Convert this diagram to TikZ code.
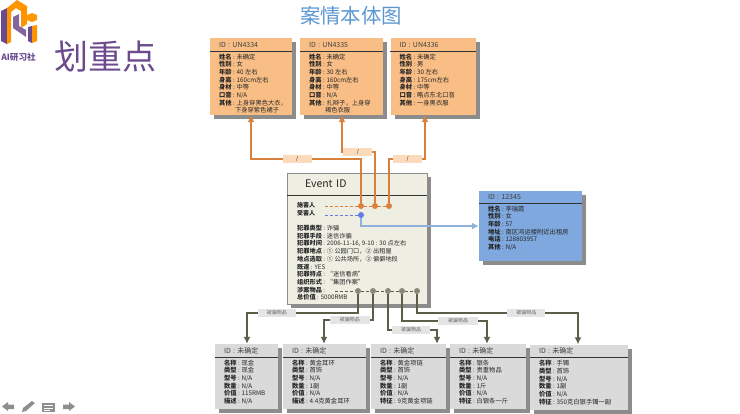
\documentclass[tikz,border=0pt]{standalone}
\usepackage{fontspec}
\setmainfont{Noto Sans CJK SC}
\usetikzlibrary{shadows,arrows.meta}
\definecolor{orangefill}{HTML}{F9BE85}
\definecolor{orangeline}{HTML}{D9803A}
\definecolor{bluefill}{HTML}{7FA8DE}
\definecolor{blueline}{HTML}{8FB2DC}
\definecolor{greyfill}{HTML}{DADADA}
\definecolor{oliveline}{HTML}{5E5E48}
\definecolor{eventfill}{HTML}{EEEEE2}
\definecolor{titleblue}{HTML}{5C97D2}
\definecolor{purpletext}{HTML}{6C4A8E}
\definecolor{toolgrey}{HTML}{8E8E8E}

\begin{document}
\begin{tikzpicture}[
    x=1pt, y=-1pt,
    box/.style={rectangle, inner sep=0pt, drop shadow={shadow xshift=4pt, shadow yshift=-4pt, fill=black!60, opacity=0.75}},
    orangebox/.style={box, fill=orangefill},
    bluebox/.style={box, fill=bluefill},
    greybox/.style={box, fill=greyfill},
    eventbox/.style={box, fill=eventfill, draw=black!45},
    boxhead/.style={anchor=north west, inner xsep=9pt, inner ysep=0pt, minimum height=13pt, align=left, font=\fontsize{7}{8}\selectfont, text=black!75,
        append after command={(\tikzlastnode.south west) edge[draw=black!80, thick] (\tikzlastnode.south east)}},
    boxtext/.style={anchor=north west, inner xsep=9pt, inner ysep=2.5pt, align=left, font=\fontsize{6.3}{7.65}\selectfont, text=black!85},
    dot/.style={circle, inner sep=0pt, minimum size=6pt},
    tag/.style={rectangle, inner sep=0pt, minimum width=29pt, minimum height=8pt, font=\fontsize{5}{6}\selectfont},
    orangearrow/.style={draw=orangeline, line width=1.3pt, -{Latex[length=7pt,width=7pt]}},
    bluearrow/.style={draw=blueline, line width=1.3pt, -{Latex[length=7pt,width=7pt]}},
    olivearrow/.style={draw=oliveline, line width=1.3pt, -{Latex[length=7pt,width=7pt]}},
    dashline/.style={densely dashed, line width=0.4pt}
]
\useasboundingbox (0,0) rectangle (740,413);

\node[text=titleblue, font=\fontsize{20.4}{24}\selectfont] (title) at (351,16) {案情本体图};
\node[text=purpletext, font=\fontsize{34}{38}\selectfont] (keypoint) at (105,57) {划重点};
\node[text=purpletext, font=\bfseries\fontsize{8.6}{10}\selectfont] (brand) at (18.5,57) {AI研习社};

\fill[purpletext] (1,11) -- (7,8) -- (7,44) -- (1,41) -- cycle;
\fill[orange!85!yellow] (7,8) -- (17,0) -- (27,6) -- (27,24) -- (21,28) -- (21,11) -- (16,8) -- (11,12) -- (11,42) -- (7,44) -- cycle;
\fill[purpletext!85] (13,17) -- (19,14) -- (19,26) -- (26,30) -- (26,37) -- (13,28) -- cycle;
\fill[orange!80!yellow] (27,15) -- (32,13) -- (37,15) -- (37,20) -- (32,22) -- (27,20) -- cycle;
\fill[purpletext] (28,27) -- (32,26) -- (32,43) -- (28,41) -- cycle;
\fill[orange!85!yellow] (32,26) -- (37,25) -- (37,41) -- (32,43) -- cycle;

\node[orangebox, minimum width=82pt, minimum height=77pt] (suspecta) at (251,76.5) {};
\node[boxhead, text width=64pt] (suspectahead) at (suspecta.north west) {ID : UN4334};
\node[boxtext] (suspectatext) at (suspectahead.south west) {\textbf{姓名} : 未确定\\\textbf{性别} : 女\\\textbf{年龄} : 40 左右\\\textbf{身高} : 160cm左右\\\textbf{身材} : 中等\\\textbf{口音} : N/A\\\textbf{其他} : 上身穿黑色大衣，\\\hspace*{16pt}下身穿紫色裙子};

\node[orangebox, minimum width=83pt, minimum height=77pt] (suspectb) at (341.5,76.5) {};
\node[boxhead, text width=65pt] (suspectbhead) at (suspectb.north west) {ID : UN4335};
\node[boxtext] (suspectbtext) at (suspectbhead.south west) {\textbf{姓名} : 未确定\\\textbf{性别} : 女\\\textbf{年龄} : 30 左右\\\textbf{身高} : 160cm左右\\\textbf{身材} : 中等\\\textbf{口音} : N/A\\\textbf{其他} : 扎辫子，上身穿\\\hspace*{16pt}褐色衣服};

\node[orangebox, minimum width=85pt, minimum height=77pt] (suspectc) at (433,76.5) {};
\node[boxhead, text width=67pt] (suspectchead) at (suspectc.north west) {ID : UN4336};
\node[boxtext] (suspectctext) at (suspectchead.south west) {\textbf{姓名} : 未确定\\\textbf{性别} : 男\\\textbf{年龄} : 30 左右\\\textbf{身高} : 175cm左右\\\textbf{身材} : 中等\\\textbf{口音} : 略点东北口音\\\textbf{其他} : 一身黑衣服};

\node[bluebox, minimum width=103pt, minimum height=70pt] (victim) at (530.5,226) {};
\node[boxhead, text width=85pt, minimum height=12pt] (victimhead) at (victim.north west) {ID : 12345};
\node[boxtext] (victimtext) at (victimhead.south west) {\textbf{姓名} : 李瑞霞\\\textbf{性别} : 女\\\textbf{年龄} : 57\\\textbf{地址} : 南区鸿运楼附近出租房\\\textbf{电话} : 128803957\\\textbf{其他} : N/A};

\node[eventbox, minimum width=140pt, minimum height=131pt] (event) at (357,238.5) {};
\node[boxhead, text width=104pt, minimum height=22pt, inner xsep=18pt, font=\fontsize{10.5}{12}\selectfont, text=black!85] (eventhead) at (event.north west) {Event ID};
\node[boxtext, inner xsep=10pt, inner ysep=0pt, font=\fontsize{6}{8.6}\selectfont] (eventroles) at (287,202) {\textbf{施害人}\\\textbf{受害人}};
\node[boxtext, inner xsep=10pt, inner ysep=0pt, font=\fontsize{6.2}{7.7}\selectfont] (eventtext) at (287,225) {\textbf{犯罪类型} : 诈骗\\\textbf{犯罪手段} : 迷信诈骗\\\textbf{犯罪时间} : 2006-11-16, 9-10 : 30 点左右\\\textbf{犯罪地点} : ① 公园门口，② 出租屋\\\textbf{地点选取} : ① 公共场所，② 偏僻地段\\\textbf{既遂} : YES\\\textbf{犯罪特点} : “迷信看病”\\\textbf{组织形式} : “集团作案”\\\textbf{涉案物品} :\\\textbf{总价值} : 5000RMB};

\node[greybox, minimum width=63pt, minimum height=65pt] (itema) at (246.5,376.5) {};
\node[boxhead, text width=45pt] (itemahead) at (itema.north west) {ID : 未确定};
\node[boxtext] (itematext) at (itemahead.south west) {\textbf{名称} : 现金\\\textbf{类型} : 现金\\\textbf{型号} : N/A\\\textbf{数量} : N/A\\\textbf{价值} : 115RMB\\\textbf{描述} : N/A};

\node[greybox, minimum width=83pt, minimum height=65pt] (itemb) at (324.5,376.5) {};
\node[boxhead, text width=65pt] (itembhead) at (itemb.north west) {ID : 未确定};
\node[boxtext] (itembtext) at (itembhead.south west) {\textbf{名称} : 黄金耳环\\\textbf{类型} : 首饰\\\textbf{型号} : N/A\\\textbf{数量} : 1副\\\textbf{价值} : N/A\\\textbf{描述} : 4.4克黄金耳环};

\node[greybox, minimum width=75pt, minimum height=65pt] (itemc) at (408.5,376.5) {};
\node[boxhead, text width=57pt] (itemchead) at (itemc.north west) {ID : 未确定};
\node[boxtext] (itemctext) at (itemchead.south west) {\textbf{名称} : 黄金项链\\\textbf{类型} : 首饰\\\textbf{型号} : N/A\\\textbf{数量} : 1副\\\textbf{价值} : N/A\\\textbf{特征} : 9克黄金项链};

\node[greybox, minimum width=76pt, minimum height=65pt] (itemd) at (488,376.5) {};
\node[boxhead, text width=58pt] (itemdhead) at (itemd.north west) {ID : 未确定};
\node[boxtext] (itemdtext) at (itemdhead.south west) {\textbf{名称} : 银条\\\textbf{类型} : 贵重物品\\\textbf{型号} : N/A\\\textbf{数量} : 1斤\\\textbf{价值} : N/A\\\textbf{特征} : 白银条一斤};

\node[greybox, minimum width=98pt, minimum height=65pt] (iteme) at (579,377) {};
\node[boxhead, text width=80pt] (itemehead) at (iteme.north west) {ID : 未确定};
\node[boxtext] (itemetext) at (itemehead.south west) {\textbf{名称} : 手镯\\\textbf{类型} : 首饰\\\textbf{型号} : N/A\\\textbf{数量} : 1副\\\textbf{价值} : N/A\\\textbf{特征} : 350克白银手镯一副};

\coordinate (rolestart) at (325,206);
\coordinate (victimstart) at (325,215);
\coordinate (goodsstart) at (335,291);
\node[dot, fill=orangeline] (doera) at (361,206) {};
\node[dot, fill=orangeline] (doerb) at (375,206) {};
\node[dot, fill=orangeline] (doerc) at (389,206) {};
\node[dot, fill=blueline!70!blue] (vict) at (361,215) {};
\node[dot, fill=oliveline!70!eventfill] (gooda) at (358,291) {};
\node[dot, fill=oliveline!70!eventfill] (goodb) at (373,291) {};
\node[dot, fill=oliveline!70!eventfill] (goodc) at (388,291) {};
\node[dot, fill=oliveline!70!eventfill] (goodd) at (402,291) {};
\node[dot, fill=oliveline!70!eventfill] (goode) at (417,291) {};

\draw[dashline, draw=orangeline] (rolestart) -- (doera) -- (doerb) -- (doerc);
\draw[dashline, draw=blueline!70!blue] (victimstart) -- (vict);
\draw[dashline, draw=oliveline] (goodsstart) -- (gooda) -- (goodb) -- (goodc) -- (goodd) -- (goode);

\coordinate (benda) at (251,159);
\coordinate (bendb) at (342,152);
\coordinate (bendc) at (425,159);
\draw[orangearrow] (doera) |- node[tag, pos=0.79, fill=orangefill!55] (taga) {/} (benda) -- (benda |- suspecta.south);
\draw[orangearrow] (doerb) |- node[tag, pos=0.76, fill=orangefill!55] (tagb) {/} (bendb) -- (bendb |- suspectb.south);
\draw[orangearrow] (doerc) |- node[tag, pos=0.757, fill=orangefill!55] (tagc) {/} (bendc) -- (bendc |- suspectc.south);
\draw[bluearrow] (vict) |- (victim.west |- 0,226);

\coordinate (benditema) at (247,313);
\coordinate (benditemb) at (324,320);
\coordinate (benditemc) at (437,330);
\coordinate (benditemd) at (487,321);
\coordinate (benditeme) at (578,313);
\draw[olivearrow] (gooda) |- node[tag, pos=0.865, minimum width=38pt, fill=greyfill!70, text=black!60] (tagitema) {被骗物品} (benditema) -- (benditema |- itema.north);
\draw[olivearrow] (goodb) |- node[tag, pos=0.735, minimum width=40pt, fill=greyfill!70, text=black!60] (tagitemb) {被骗物品} (benditemb) -- (benditemb |- itemb.north);
\draw[olivearrow] (goodc) |- node[tag, pos=0.735, minimum width=38pt, fill=greyfill!70, text=black!60] (tagitemc) {被骗物品} (benditemc) -- (benditemc |- itemc.north);
\draw[olivearrow] (goodd) |- node[tag, pos=0.83, minimum width=40pt, fill=greyfill!70, text=black!60] (tagitemd) {被骗物品} (benditemd) -- (benditemd |- itemd.north);
\draw[olivearrow] (goode) |- node[tag, pos=0.84, minimum width=38pt, fill=greyfill!70, text=black!60] (tagiteme) {被骗物品} (benditeme) -- (benditeme |- iteme.north);

\fill[toolgrey] (2,406.5) -- (8,402) -- (8,404.5) -- (14,404.5) -- (14,409) -- (8,409) -- (8,411) -- cycle;
\fill[toolgrey] (22,412) -- (23,408) -- (32,401) -- (35,403) -- (26,411) -- cycle;
\fill[toolgrey] (42,403) rectangle (55,412);
\draw[white, line width=0.6pt] (44,405.5) -- (53,405.5) (44,408) -- (53,408) (44,410) -- (50,410);
\fill[toolgrey] (75,406.5) -- (69,402) -- (69,404.5) -- (63,404.5) -- (63,409) -- (69,409) -- (69,411) -- cycle;

\end{tikzpicture}
\end{document}
